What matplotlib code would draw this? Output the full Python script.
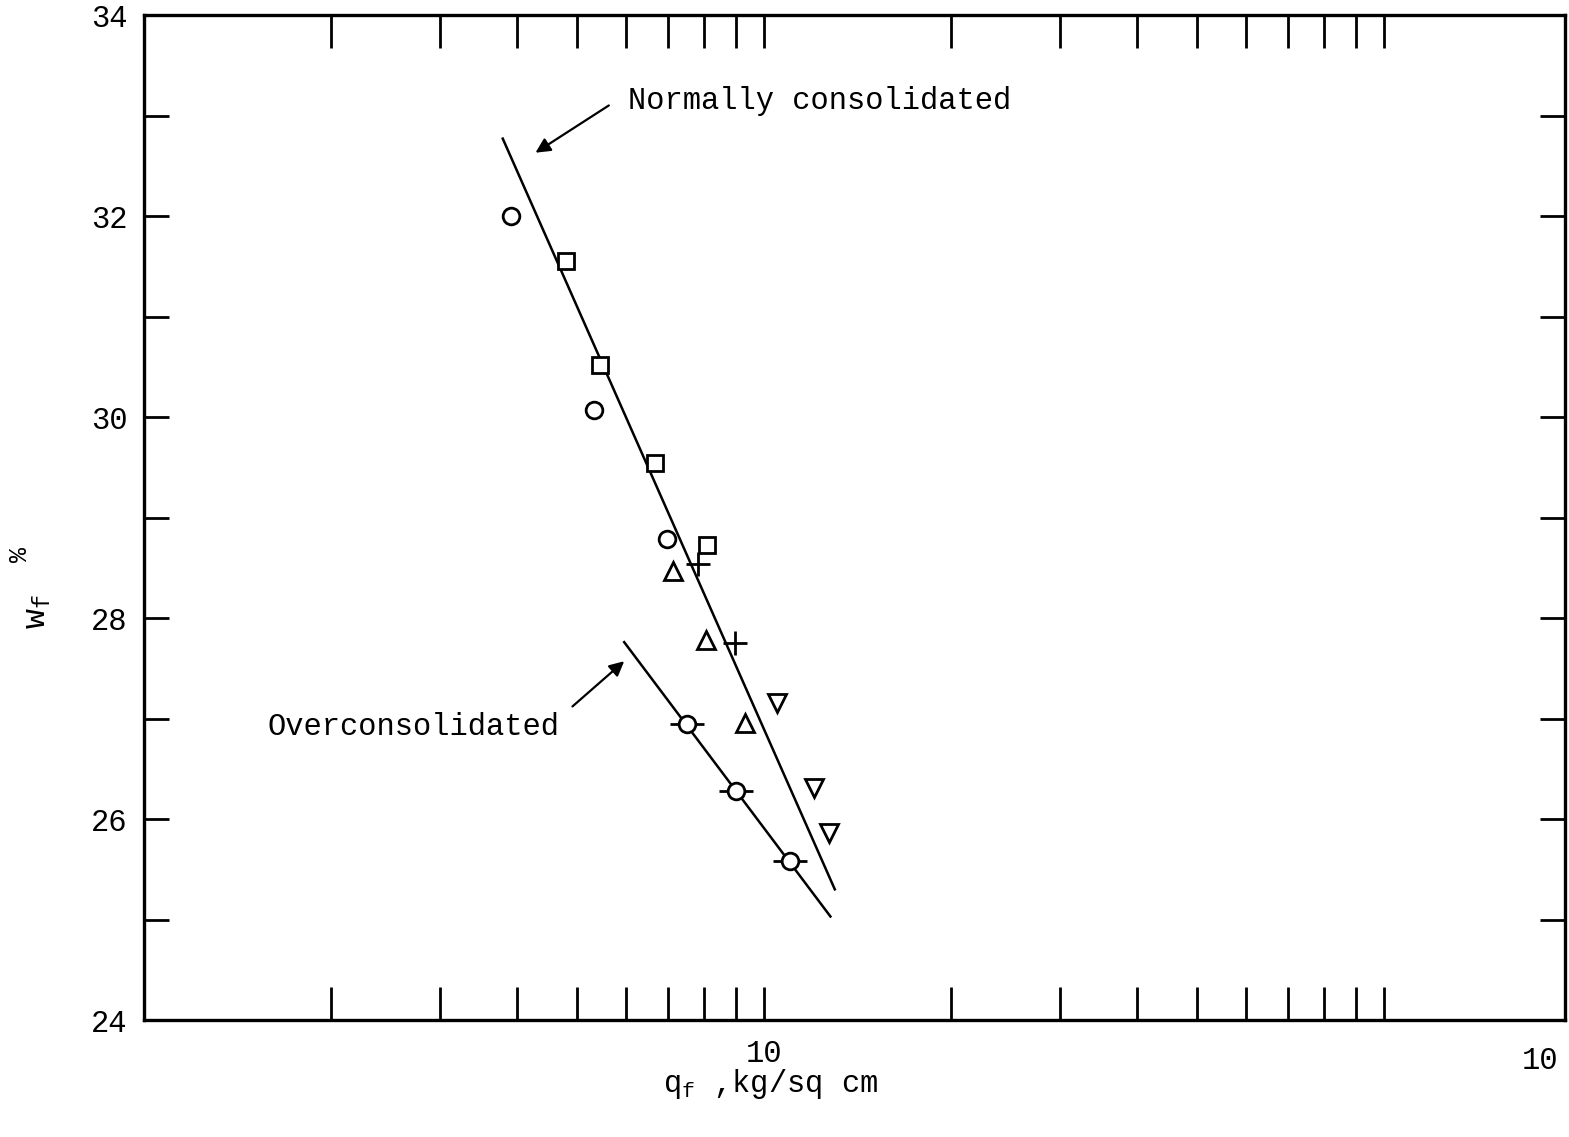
import matplotlib
matplotlib.use('Agg')
import matplotlib.pyplot as plt
from matplotlib.ticker import FixedLocator, NullFormatter
from matplotlib.transforms import blended_transform_factory

MONO = 'Liberation Mono'
plt.rcParams['font.family'] = [MONO, 'DejaVu Sans']
plt.rcParams['mathtext.fontset'] = 'custom'
plt.rcParams['mathtext.rm'] = MONO
plt.rcParams['mathtext.it'] = MONO

# ── Data: final water content vs. strength at failure ────────────────────────
circ_q = [3.91, 5.31, 6.98]
circ_w = [32.0, 30.07, 28.79]
sq_q = [4.80, 5.44, 6.68, 8.09]
sq_w = [31.55, 30.52, 29.54, 28.73]
plus_q = [7.82, 8.98]
plus_w = [28.54, 27.75]
tup_q = [7.12, 8.05, 9.31]
tup_w = [28.47, 27.78, 26.96]
tdn_q = [10.5, 12.02, 12.74]
tdn_w = [27.15, 26.31, 25.86]
oc_q = [7.50, 9.01, 11.02]
oc_w = [26.95, 26.28, 25.58]

# fitted lines
nc_line_q = [3.79, 13.01]
nc_line_w = [32.77, 25.30]
oc_line_q = [5.95, 12.80]
oc_line_w = [27.76, 25.03]

x_minor = [2, 3, 4, 5, 6, 7, 8, 9, 10, 20, 30, 40, 50, 60, 70, 80, 90, 100]
y_ticks = list(range(25, 34))
y_labels = [24, 26, 28, 30, 32, 34]

fig = plt.figure(figsize=(15.69, 11.37), dpi=100)
ax = fig.add_axes([0.0918, 0.1029, 0.9057, 0.8839])
ax.set_xscale('log')
ax.set_xlim(1, 196)
ax.set_ylim(24, 34)

K = 'black'
lw = 1.8
ax.plot(nc_line_q, nc_line_w, color=K, lw=lw, zorder=2)
ax.plot(oc_line_q, oc_line_w, color=K, lw=lw, zorder=2)

mk = dict(linestyle='none', mfc='white', mec=K, mew=2.0, zorder=3)
ax.plot(circ_q, circ_w, marker='o', ms=12, **mk)
ax.plot(sq_q, sq_w, marker='s', ms=11, **mk)
ax.plot(plus_q, plus_w, marker='+', ms=17, **mk)
ax.plot(tup_q, tup_w, marker='^', ms=13, **mk)
ax.plot(tdn_q, tdn_w, marker='v', ms=13, **mk)
ax.plot(oc_q, oc_w, marker='_', ms=24, linestyle='none', mec=K, mew=2.0, zorder=3)
ax.plot(oc_q, oc_w, marker='o', ms=12, **mk)

# annotations
ax.text(6.04, 33.14, 'Normally consolidated', fontsize=22, ha='left', va='center')
ax.annotate('', xy=(4.28, 32.63), xytext=(5.62, 33.10),
            arrowprops=dict(arrowstyle='-|>', color=K, lw=1.6, mutation_scale=22,
                            shrinkA=0, shrinkB=0))
ax.text(1.58, 26.92, 'Overconsolidated', fontsize=22, ha='left', va='center')
ax.annotate('', xy=(5.95, 27.57), xytext=(4.91, 27.12),
            arrowprops=dict(arrowstyle='-|>', color=K, lw=1.6, mutation_scale=22,
                            shrinkA=0, shrinkB=0))

# axes frame and ticks
for s in ax.spines.values():
    s.set_linewidth(2.4)
ax.xaxis.set_major_locator(FixedLocator([10]))
ax.xaxis.set_minor_locator(FixedLocator(x_minor))
ax.xaxis.set_minor_formatter(NullFormatter())
ax.set_xticklabels(['10'])
ax.yaxis.set_major_locator(FixedLocator(y_labels))
ax.yaxis.set_minor_locator(FixedLocator(y_ticks))
ax.tick_params(which='both', direction='in', top=True, right=True, color=K)
ax.tick_params(axis='x', which='both', length=24, width=2, pad=14, labelsize=22)
ax.tick_params(axis='y', which='both', length=18, width=2, pad=12, labelsize=22)

tr = blended_transform_factory(ax.transData, ax.transAxes)
ax.text(178.6, -0.026, '10', transform=tr, fontsize=22, ha='center', va='top')

fig.text(0.491, 0.047, r'$q_f$ ,kg/sq cm', fontsize=22, ha='center', va='center')
fig.text(0.024, 0.462, r'$w_f$', fontsize=24, rotation=90, ha='center', va='center')
fig.text(0.013, 0.512, '%', fontsize=18, rotation=90, ha='center', va='center')

fig.savefig('out.png', dpi=100, facecolor='white')
